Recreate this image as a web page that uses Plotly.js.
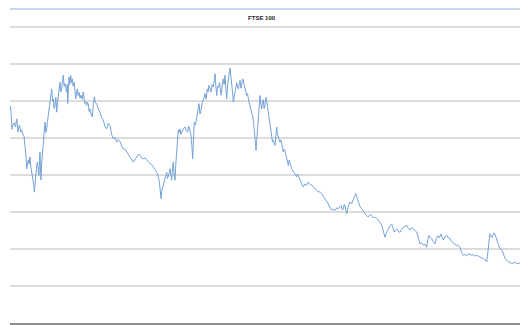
<!DOCTYPE html>
<html>
<head>
<meta charset="utf-8">
<script src="https://cdn.plot.ly/plotly-3.0.1.min.js"></script>
<style>html,body{margin:0;padding:0;background:#fff;}#chart{width:520px;height:325px;}</style>
</head>
<body>
<div id="chart"></div>
<script>
var chartTitle = "FTSE 100";
var years = [
1998.000,1998.017,1998.033,1998.050,1998.067,1998.105,1998.143,1998.183,1998.223,1998.245,
1998.267,1998.295,1998.323,1998.357,1998.390,1998.412,1998.433,1998.467,1998.500,1998.528,
1998.557,1998.583,1998.610,1998.638,1998.667,1998.695,1998.723,1998.750,1998.777,1998.793,
1998.810,1998.833,1998.857,1998.883,1998.910,1998.938,1998.967,1998.983,1999.000,1999.017,
1999.033,1999.055,1999.077,1999.093,1999.110,1999.138,1999.167,1999.195,1999.223,1999.250,
1999.277,1999.305,1999.333,1999.362,1999.390,1999.417,1999.443,1999.472,1999.500,1999.528,
1999.557,1999.583,1999.610,1999.638,1999.667,1999.695,1999.723,1999.750,1999.777,1999.805,
1999.833,1999.862,1999.890,1999.907,1999.923,1999.945,1999.967,1999.995,2000.023,2000.050,
2000.077,2000.105,2000.133,2000.162,2000.190,2000.217,2000.243,2000.272,2000.300,2000.333,
2000.367,2000.405,2000.443,2000.472,2000.500,2000.528,2000.557,2000.583,2000.610,2000.638,
2000.667,2000.705,2000.743,2000.777,2000.810,2000.850,2000.890,2000.945,2001.000,2001.055,
2001.110,2001.167,2001.223,2001.278,2001.333,2001.388,2001.443,2001.500,2001.557,2001.612,
2001.667,2001.722,2001.777,2001.833,2001.890,2001.945,2002.000,2002.055,2002.110,2002.167,
2002.223,2002.278,2002.333,2002.388,2002.443,2002.500,2002.557,2002.612,2002.667,2002.722,
2002.777,2002.833,2002.890,2002.928,2002.967,2003.000,2003.033,2003.055,2003.077,2003.110,
2003.143,2003.183,2003.223,2003.250,2003.277,2003.305,2003.333,2003.362,2003.390,2003.417,
2003.443,2003.472,2003.500,2003.528,2003.557,2003.583,2003.610,2003.638,2003.667,2003.695,
2003.723,2003.778,2003.833,2003.878,2003.923,2003.950,2003.977,2004.005,2004.033,2004.062,
2004.090,2004.117,2004.143,2004.183,2004.223,2004.262,2004.300,2004.333,2004.367,2004.405,
2004.443,2004.472,2004.500,2004.538,2004.577,2004.605,2004.633,2004.667,2004.700,2004.738,
2004.777,2004.805,2004.833,2004.862,2004.890,2004.917,2004.943,2004.988,2005.033,2005.072,
2005.110,2005.138,2005.167,2005.195,2005.223,2005.250,2005.277,2005.305,2005.333,2005.362,
2005.390,2005.417,2005.443,2005.472,2005.500,2005.528,2005.557,2005.583,2005.610,2005.638,
2005.667,2005.695,2005.723,2005.750,2005.777,2005.805,2005.833,2005.862,2005.890,2005.917,
2005.943,2005.972,2006.000,2006.028,2006.057,2006.083,2006.110,2006.138,2006.167,2006.183,
2006.200,2006.228,2006.257,2006.277,2006.305,2006.333,2006.362,2006.390,2006.417,2006.443,
2006.472,2006.500,2006.528,2006.557,2006.583,2006.610,2006.638,2006.667,2006.695,2006.723,
2006.750,2006.777,2006.805,2006.833,2006.862,2006.890,2006.917,2006.943,2006.972,2007.000,
2007.028,2007.057,2007.083,2007.110,2007.138,2007.167,2007.195,2007.223,2007.250,2007.277,
2007.305,2007.333,2007.362,2007.390,2007.445,2007.500,2007.528,2007.557,2007.583,2007.610,
2007.667,2007.723,2007.750,2007.777,2007.833,2007.890,2007.917,2007.943,2008.000,2008.057,
2008.112,2008.167,2008.222,2008.277,2008.333,2008.390,2008.445,2008.500,2008.555,2008.610,
2008.667,2008.723,2008.778,2008.833,2008.888,2008.943,2008.988,2009.033,2009.072,2009.110,
2009.138,2009.167,2009.195,2009.223,2009.278,2009.333,2009.388,2009.443,2009.483,2009.523,
2009.567,2009.610,2009.667,2009.723,2009.778,2009.833,2009.888,2009.943,2010.000,2010.057,
2010.112,2010.167,2010.222,2010.277,2010.333,2010.390,2010.445,2010.500,2010.555,2010.610,
2010.667,2010.723,2010.767,2010.810,2010.850,2010.890,2010.945,2011.000,2011.055,2011.110,
2011.167,2011.223,2011.278,2011.333,2011.388,2011.443,2011.500,2011.557,2011.612,2011.667,
2011.722,2011.777,2011.833,2011.890,2011.928,2011.967,2012.012,2012.057,2012.112,2012.167,
2012.212,2012.257,2012.312,2012.367,2012.405,2012.443,2012.500,2012.557,2012.612,2012.667,
2012.722,2012.777,2012.833,2012.890,2012.945,2013.000,2013.055,2013.110,2013.167,2013.223,
2013.278,2013.333,2013.388,2013.443,2013.500,2013.557,2013.612,2013.667,2013.722,2013.777,
2013.833,2013.890,2013.917,2013.943,2013.972,2014.000,2014.038,2014.077,2014.122,2014.167,
2014.205,2014.243,2014.288,2014.333,2014.372,2014.410,2014.455,2014.500,2014.555,2014.610,
2014.667,2014.723,2014.778,2014.833,2014.888,2014.943,2015.000
];
var values = [
5790,5860,5700,5520,5240,5380,5410,5300,5520,5380,
5160,5290,5350,5160,5220,5180,5080,5050,4810,4560,
4170,4350,4410,4300,4490,4230,4080,4000,3870,3720,
3540,3800,4000,4180,4350,4100,3990,4400,4620,4200,
3870,4300,4540,4700,4980,5300,5430,5150,5250,5450,
5620,5850,5970,6150,6330,6000,6060,5800,5890,6100,
5700,5950,6160,6400,6510,6250,6330,6550,6700,6400,
6470,6350,6240,6450,5930,6300,6650,6450,6690,6500,
6600,6400,6510,6300,6060,6200,6330,6150,6240,6080,
6160,6050,6250,6050,5930,5980,5880,5960,5920,5720,
5790,5650,5570,5900,6110,5950,5930,5780,5700,5550,
5490,5300,5250,5400,5340,5100,4980,5020,4890,4960,
4900,4780,4710,4700,4620,4560,4490,4400,4350,4420,
4480,4560,4540,4460,4440,4460,4400,4370,4310,4280,
4220,4160,4080,3980,3870,3650,3360,3560,3630,3700,
3810,3950,4080,3900,3950,4050,4170,3950,3860,4200,
4350,4000,3860,4300,4710,5000,5220,5150,5250,5100,
5160,5250,5300,5200,5160,5320,5290,5200,5080,4800,
4440,5000,5430,5350,5520,5700,5930,5650,5750,5950,
6020,6100,6200,6050,6330,6250,6430,6300,6240,6450,
6380,6550,6740,6400,6150,6400,6370,6500,6160,6400,
6600,6450,6700,6350,6060,6400,6690,6750,6890,6700,
6510,6250,5970,6100,6240,6350,6500,6400,6330,6450,
6560,6350,6430,6600,6570,6450,6320,6250,6150,6200,
6020,5950,5880,5800,5700,5600,5480,5300,5030,4850,
4670,4950,5250,5520,5850,6150,5900,5790,5950,6040,
5800,5890,6100,6020,5850,5700,5450,5250,5150,5070,
4900,4940,4850,4800,5050,5300,5100,4980,4950,4890,
4950,4850,4700,4620,4700,4660,4550,4440,4350,4260,
4400,4350,4250,4170,4100,4040,4000,3950,4030,3990,
3880,3770,3720,3680,3760,3720,3780,3810,3740,3730,
3680,3630,3590,3540,3550,3500,3420,3360,3290,3220,
3120,3050,3080,3040,3110,3090,3140,3180,3060,3080,
3200,3180,3040,2950,3150,3270,3230,3320,3420,3500,
3380,3270,3150,3090,3010,2950,2900,2870,2930,2910,
2850,2860,2830,2780,2720,2640,2500,2320,2450,2550,
2620,2680,2550,2460,2520,2540,2480,2450,2530,2590,
2610,2640,2560,2510,2580,2550,2500,2460,2300,2140,
2170,2100,2130,2050,2250,2370,2300,2280,2200,2140,
2280,2360,2300,2410,2320,2240,2330,2370,2300,2280,
2200,2150,2120,2100,2090,2050,1900,1830,1850,1820,
1860,1870,1830,1850,1810,1830,1800,1780,1760,1740,
1710,1650,1800,2010,2250,2410,2330,2320,2430,2400,
2300,2190,2100,2010,2000,1960,1850,1740,1700,1650,
1640,1600,1630,1640,1600,1620,1610
];
var yTicks = [0,1000,2000,3000,4000,5000,6000,7000,8000];

var trace = {
  x: years, y: values, type: 'scatter', mode: 'lines',
  line: {color: '#74a2d8', width: 1}, hoverinfo: 'skip'
};
var layout = {
  width: 520, height: 325,
  margin: {l: 10, r: 0, t: 26, b: 2, pad: 0},
  paper_bgcolor: '#ffffff', plot_bgcolor: '#ffffff',
  showlegend: false,
  title: {text: '<b>' + chartTitle + '</b>', x: 0.503, xanchor: 'center', y: 0.945, yanchor: 'middle',
          font: {family: 'Liberation Sans, Arial, sans-serif', size: 6, color: '#222222'}},
  xaxis: {range: [1998, 2015], showgrid: false, zeroline: false, showticklabels: false,
          showline: true, linecolor: '#8c8c8c', linewidth: 2, ticks: ''},
  yaxis: {range: [0, 8030], tickvals: yTicks, showgrid: true, gridcolor: '#dcdcdc', gridwidth: 1.5,
          zeroline: false, showticklabels: false, showline: false, ticks: ''},
  shapes: [{type: 'line', xref: 'paper', yref: 'paper', x0: 0, x1: 1, y0: 1.0572, y1: 1.0572,
            line: {color: '#b7c9e2', width: 1.5}}]
};
Plotly.newPlot('chart', [trace], layout, {displayModeBar: false, staticPlot: true});
</script>
</body>
</html>
